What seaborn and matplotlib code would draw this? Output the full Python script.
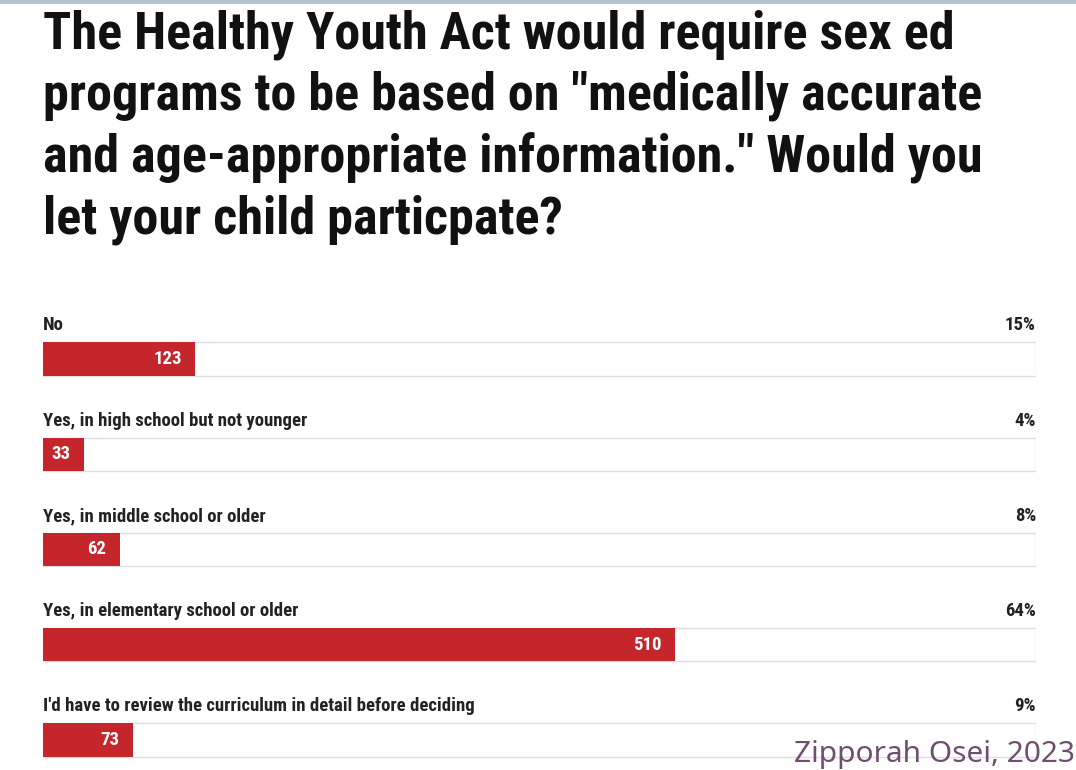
import matplotlib
matplotlib.use("Agg")
import matplotlib.pyplot as plt
import seaborn as sns
from matplotlib.patches import Rectangle

# data
answers = [
    "No",
    "Yes, in high school but not younger",
    "Yes, in middle school or older",
    "Yes, in elementary school or older",
    "I'd have to review the curriculum in detail before deciding",
]
counts = [123, 33, 62, 510, 73]
percents = ["15%", "4%", "8%", "64%", "9%"]
title = ('The Healthy Youth Act would require sex ed\n'
         'programs to be based on "medically accurate\n'
         'and age-appropriate information." Would you\n'
         'let your child particpate?')
credit = "Zipporah Osei, 2023"

total = sum(counts)
RED = "#c4262b"
NARROW = ["Roboto Condensed", "Roboto", "DejaVu Sans"]

sns.set_theme(style="white")
plt.rcParams["font.family"] = NARROW

W, H = 1076, 770
fig = plt.figure(figsize=(W / 100, H / 100), dpi=100)
fig.patch.set_facecolor("white")

# thin band across the top
fig.patches.append(Rectangle((0, 1 - 4 / H), 1, 4 / H, transform=fig.transFigure,
                             facecolor="#b5c4cf", edgecolor="none", zorder=0))

ax = fig.add_axes([43 / W, 0, 993 / W, 1])

# background tracks (full scale = total responses), then the red bars
sns.barplot(x=[total] * len(answers), y=answers, orient="h", color="white",
            edgecolor="#dedede", linewidth=1.0, width=0.35, ax=ax, zorder=1)
sns.barplot(x=counts, y=answers, orient="h", color=RED, saturation=1,
            width=0.35, linewidth=0, ax=ax, zorder=2)

ax.set_xlim(0, total)
pitch = 95.25
ax.set_ylim((H - 359) / pitch, -359 / pitch)
ax.axis("off")

for i, (ans, n, pct) in enumerate(zip(answers, counts, percents)):
    ax.text(0, i - 0.30, ans, ha="left", va="baseline", fontsize=13.5,
            fontweight="bold", color="#222222")
    ax.text(total, i - 0.30, pct, ha="right", va="baseline", fontsize=13.5,
            fontweight="bold", color="#222222")
    ax.annotate(str(n), (n, i), xytext=(-10, 0), textcoords="offset points",
                ha="right", va="center", fontsize=13.5, fontweight="bold",
                color="white", zorder=3)

fig.text(43 / W, 1 - 9 / H, title, ha="left", va="top", fontsize=37.5,
         fontweight="bold", color="#111111", linespacing=1.28)

fig.text(1 - 1 / W, 8 / H, credit, ha="right", va="baseline", fontsize=21.5,
         color="#6e4f6f", family=["Noto Sans", "DejaVu Sans"])

fig.savefig("out.png", dpi=100, facecolor="white")
